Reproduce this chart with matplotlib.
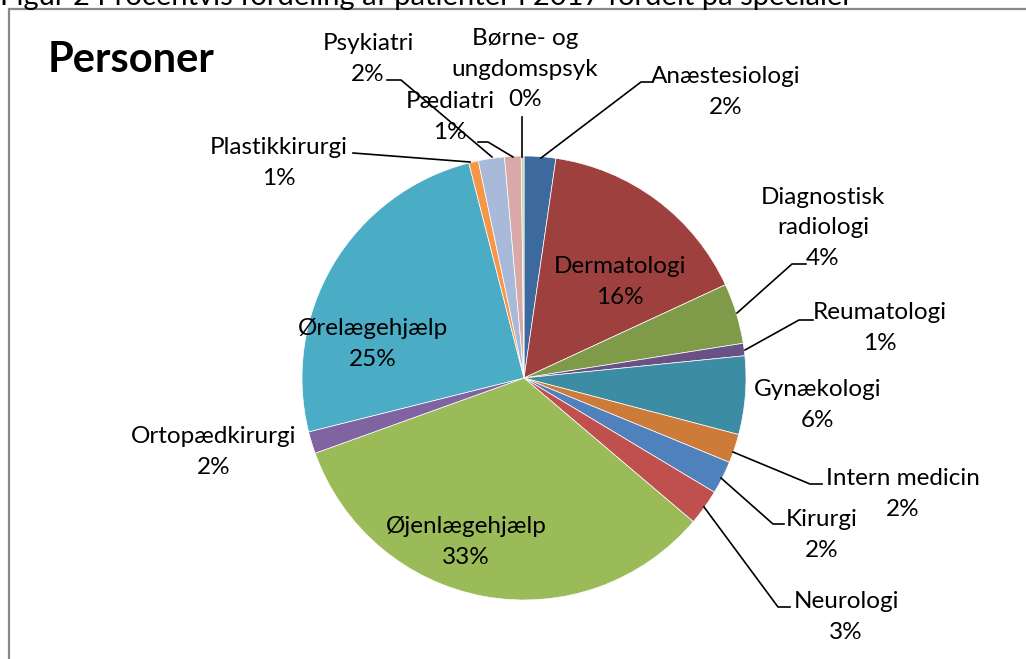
import matplotlib.pyplot as plt
from matplotlib.patches import Rectangle

plt.rcParams['font.family'] = ['Lato', 'DejaVu Sans']

# data
specialer = ["Anæstesiologi", "Dermatologi", "Diagnostisk\nradiologi", "Reumatologi",
             "Gynækologi", "Intern medicin", "Kirurgi", "Neurologi", "Øjenlægehjælp",
             "Ortopædkirurgi", "Ørelægehjælp", "Plastikkirurgi", "Psykiatri", "Pædiatri",
             "Børne- og\nungdomspsyk"]
andel = [2.3, 15.8, 4.4, 0.9, 5.7, 2.1, 2.4, 2.6, 33.3, 1.6, 24.9, 0.7, 1.9, 1.2, 0.2]

farver = ["#3D6A9E", "#9E413E", "#7F9A48", "#695185", "#3C8DA3", "#CC7B38",
          "#4F81BD", "#C0504D", "#9BBB59", "#8064A2", "#4BACC6", "#F79646",
          "#A9B9D9", "#D9A9A8", "#C3D69B"]

W, H = 1026, 659
fig = plt.figure(figsize=(W / 100, H / 100), dpi=100)
ax = fig.add_axes([0, 0, 1, 1])

def Y(y):
    return H - y

cx, cy, r = 524, 378, 222
ax.pie(andel, colors=farver, startangle=90, counterclock=False,
       center=(cx, Y(cy)), radius=r,
       wedgeprops=dict(edgecolor="white", linewidth=0.5))

ax.set_xlim(0, W)
ax.set_ylim(0, H)
ax.set_aspect("equal")
ax.axis("off")

# label positions (image pixels) and leader lines
label_pos = [(726, 92), (620, 282), (823, 228), (880, 328), (818, 405), (903, 494),
             (822, 535), (846, 617), (466, 542), (214, 452), (373, 344), (279, 163),
             (368, 59), (450, 117), (525, 69)]
leaders = {
    0: [(541, 158), (641, 82), (651, 82)],
    2: [(737, 313), (792, 264), (806, 264)],
    3: [(745, 350), (799, 320), (813, 320)],
    5: [(733, 452), (810, 484), (822, 484)],
    6: [(721, 478), (773, 524), (784, 524)],
    7: [(704, 507), (778, 607), (790, 607)],
    11: [(470, 162), (353, 153)],
    12: [(492, 157), (401, 80), (387, 80)],
    13: [(513, 157), (488, 142), (478, 142)],
    14: [(522, 157), (522, 117)],
}

for i, (navn, v) in enumerate(zip(specialer, andel)):
    x, y = label_pos[i]
    ax.text(x, Y(y), f"{navn}\n{round(v):.0f}%", ha="center", va="center",
            fontsize=17.5, linespacing=1.55, color="black")
    if i in leaders:
        pts = leaders[i]
        ax.plot([p[0] for p in pts], [Y(p[1]) for p in pts], color="black", lw=1.2)

ax.text(48, Y(60), "Personer", fontsize=30, fontweight="bold", ha="left", va="center")

# frame and cut caption
ax.add_patch(Rectangle((9, -20), W + 40, Y(9) + 20, fill=False,
                       edgecolor="#888888", lw=1.6, clip_on=False))
fig.text(0.0, (H - 5) / H, "Figur 2 Procentvis fordeling af patienter i 2017 fordelt på specialer",
         fontsize=21, ha="left", va="baseline")

fig.savefig("out.png", dpi=100)
